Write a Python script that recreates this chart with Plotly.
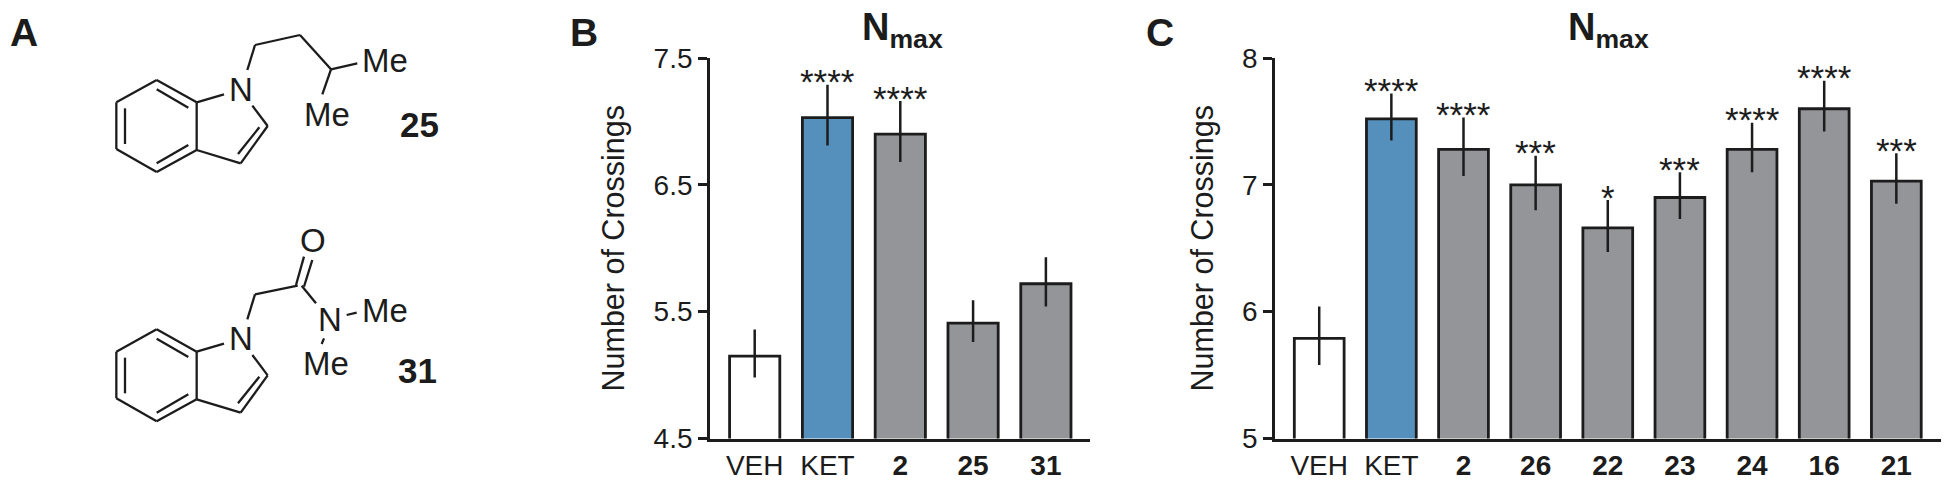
import plotly.graph_objects as go

W, H = 1950, 484
FONT = "Liberation Sans"
INK = "#1c1c1c"

# Panel B data
b_labels = ["VEH", "KET", "2", "25", "31"]
b_means = [5.15, 7.03, 6.90, 5.41, 5.72]
b_err_up = [0.21, 0.26, 0.26, 0.18, 0.21]
b_err_down = [0.17, 0.22, 0.22, 0.15, 0.18]
b_stars = ["", "****", "****", "", ""]
b_ticks = [4.5, 5.5, 6.5, 7.5]

# Panel C data
c_labels = ["VEH", "KET", "2", "26", "22", "23", "24", "16", "21"]
c_means = [5.79, 7.52, 7.28, 7.00, 6.66, 6.90, 7.28, 7.60, 7.03]
c_err_up = [0.25, 0.20, 0.25, 0.23, 0.22, 0.20, 0.21, 0.22, 0.22]
c_err_down = [0.21, 0.17, 0.21, 0.20, 0.19, 0.17, 0.18, 0.18, 0.18]
c_stars = ["", "****", "****", "***", "*", "***", "****", "****", "***"]
c_ticks = [5, 6, 7, 8]

WHITE, BLUE, GREY = "#ffffff", "#5590bd", "#939598"


def bold(label):
    return label if label in ("VEH", "KET") else f"<b>{label}</b>"


fig = go.Figure()


def add_panel(labels, means, up, down, stars, xa, ya):
    colors = [WHITE, BLUE] + [GREY] * (len(labels) - 2)
    fig.add_trace(go.Bar(
        x=labels, y=means, width=0.69, xaxis=xa, yaxis=ya, showlegend=False,
        marker=dict(color=colors, line=dict(color=INK, width=2.8)),
        error_y=dict(type="data", symmetric=False, array=up, arrayminus=down,
                     width=0, thickness=2.5, color=INK),
    ))
    for i, (m, u, s) in enumerate(zip(means, up, stars)):
        if s:
            fig.add_annotation(xref=xa, yref=ya, x=i, y=m + u, text=s, showarrow=False,
                               xanchor="center", yanchor="middle", yshift=3,
                               font=dict(family=FONT, size=35, color=INK))


add_panel(b_labels, b_means, b_err_up, b_err_down, b_stars, "x", "y")
add_panel(c_labels, c_means, c_err_up, c_err_down, c_stars, "x2", "y2")

axis_line = dict(showline=True, linecolor=INK, linewidth=2.8, showgrid=False,
                 zeroline=False, automargin=False)
title_font = dict(family=FONT, size=30.5, color=INK)


def x_axis(labels, rng, domain, anchor):
    return dict(axis_line, type="category", domain=domain, range=rng, anchor=anchor,
                tickmode="array", tickvals=labels, ticktext=[bold(l) for l in labels],
                ticks="", tickfont=dict(family=FONT, size=28, color=INK))


def y_axis(ticks, rng, anchor, standoff):
    return dict(axis_line, domain=[1 - 438.5 / H, 1 - 58 / H], range=rng, anchor=anchor,
                tickmode="array", tickvals=ticks, ticktext=[str(t) for t in ticks],
                ticks="outside", ticklen=9, tickwidth=2.8, tickcolor=INK,
                tickfont=dict(family=FONT, size=28, color=INK),
                title=dict(text="Number of Crossings", font=title_font, standoff=standoff))


fig.update_layout(
    width=W, height=H, margin=dict(l=0, r=0, t=0, b=0),
    paper_bgcolor="white", plot_bgcolor="white", bargap=0.31,
    font=dict(family=FONT, color=INK),
    xaxis=x_axis(b_labels, [-0.614, 4.606], [710 / W, 1090 / W], "y"),
    yaxis=y_axis(b_ticks, [4.5, 7.5], "x", 20),
    xaxis2=x_axis(c_labels, [-0.613, 8.615], [1275 / W, 1940.7 / W], "y2"),
    yaxis2=y_axis(c_ticks, [5, 8], "x2", 20),
)


# Panel A: structure drawings, in page pixels
def px(x):
    return x / W


def py(y):
    return 1 - y / H


def bond(x0, y0, x1, y1, width=2.3):
    fig.add_shape(type="line", xref="paper", yref="paper",
                  x0=px(x0 / 3), y0=py(y0 / 3), x1=px(x1 / 3), y1=py(y1 / 3),
                  line=dict(color=INK, width=width))


def label(x, y, text, size, weight_bold=False):
    fig.add_annotation(xref="paper", yref="paper", x=px(x), y=py(y), text=f"<b>{text}</b>" if weight_bold else text,
                       showarrow=False, xanchor="center", yanchor="middle",
                       font=dict(family=FONT, size=size, color=INK))


def indole(dy):
    ring = [(470, 240), (349, 307), (349, 447), (470, 516), (590, 450), (590, 307)]
    for i in range(6):
        a, b = ring[i], ring[(i + 1) % 6]
        bond(a[0], a[1] + dy, b[0], b[1] + dy)
    bond(375, 325 + dy, 375, 432 + dy)
    bond(470, 268 + dy, 565, 323 + dy)
    bond(470, 490 + dy, 565, 435 + dy)
    bond(590, 307 + dy, 672, 283 + dy)
    bond(757, 317 + dy, 803, 378 + dy)
    bond(803, 378 + dy, 722, 490 + dy)
    bond(722, 490 + dy, 590, 450 + dy)
    bond(778, 382 + dy, 714, 462 + dy)
    bond(742, 210 + dy, 765, 135 + dy)


indole(0)
bond(765, 135, 900, 105)
bond(900, 105, 993, 208)
bond(993, 208, 1072, 190)
bond(993, 208, 967, 283)

indole(748)
bond(765, 883, 893, 857)
bond(888, 855, 912, 770)
bond(912, 860, 937, 780)
bond(905, 857, 948, 910)
bond(1040, 945, 1070, 938)
bond(972, 1015, 965, 1032)

for x, y, t in [(722, 268, "N"), (1155, 183, "Me"), (980, 343, "Me"),
                (722, 1015, "N"), (940, 722, "O"), (990, 958, "N"), (1155, 930, "Me"), (978, 1090, "Me")]:
    label(x / 3, y / 3, t, 33)
label(1258 / 3, 372 / 3, "25", 35, True)
label(1252 / 3, 1110 / 3, "31", 35, True)

label(24, 32, "A", 39, True)
label(584, 32, "B", 39, True)
label(1160, 32, "C", 39, True)

label(902, 30, "N<sub>max</sub>", 38, True)
label(1608, 30, "N<sub>max</sub>", 38, True)

fig.write_html("out.html", post_script="document.body.style.margin='0';",
               config={"displayModeBar": False})
